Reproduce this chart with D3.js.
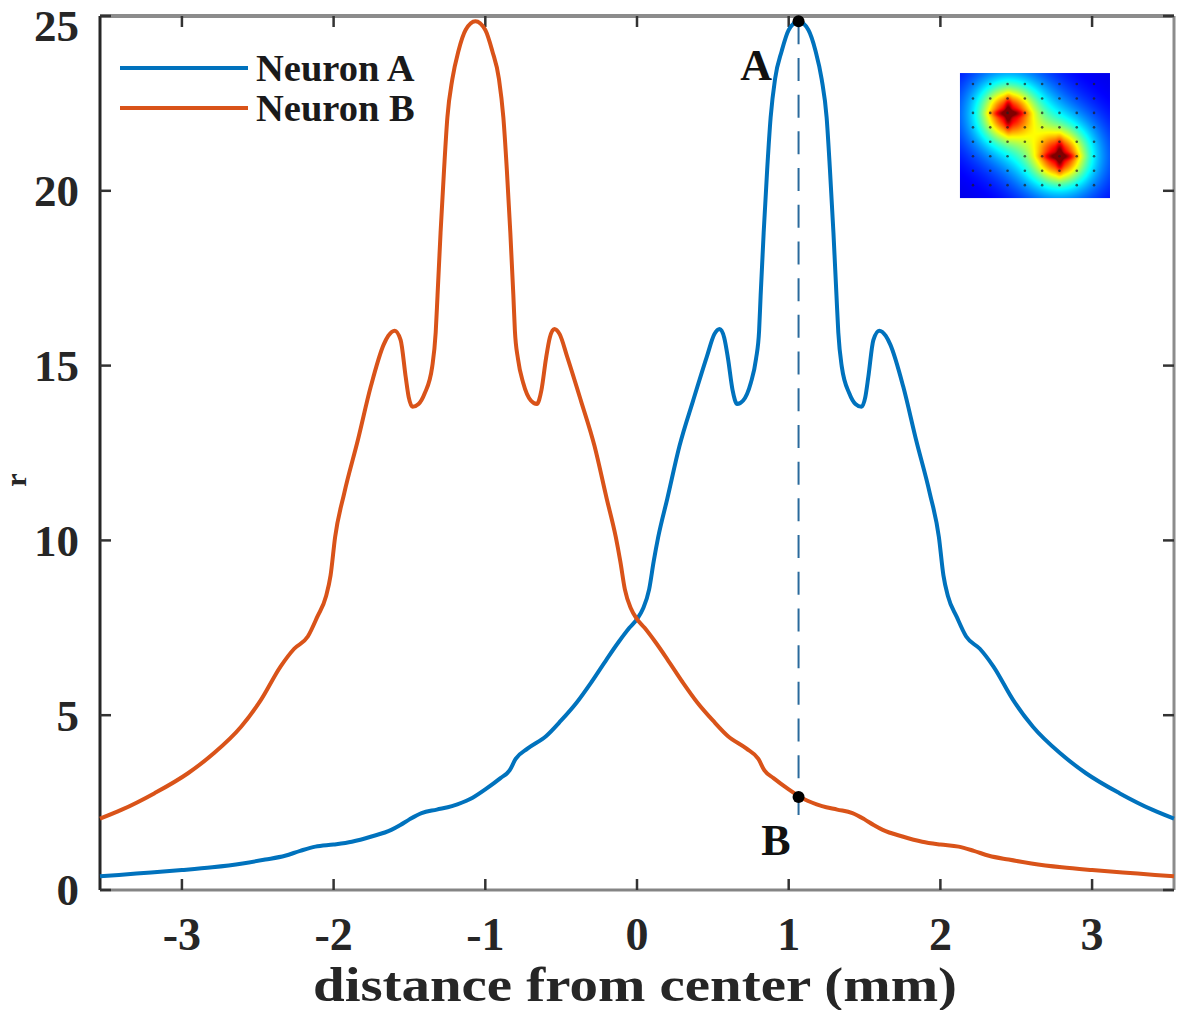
<!DOCTYPE html>
<html><head><meta charset="utf-8">
<script src="https://cdn.jsdelivr.net/npm/d3@7"></script>
<style>body{margin:0;background:#fff}svg{display:block}</style>
</head><body>
<svg id="chart" width="1181" height="1010"></svg>
<script>
// ---- data ----
const seriesNames = ["Neuron A", "Neuron B"];
const seriesColors = ["#0072BD", "#D95319"];
const neuronA_x = [-3.54,-3.3,-3.0,-2.8,-2.6,-2.45,-2.32,-2.22,-2.12,-2.0,-1.88,-1.75,-1.62,-1.56,-1.5,-1.42,-1.32,-1.22,-1.1,-1.0,-0.9,-0.84,-0.8,-0.72,-0.6,-0.5,-0.4,-0.3,-0.2,-0.12,-0.05,0.0,0.04,0.08,0.11,0.14,0.2,0.28,0.37,0.46,0.51,0.545,0.575,0.6,0.63,0.66,0.7,0.75,0.785,0.805,0.815,0.835,0.858,0.881,0.91,0.954,1.0,1.065,1.13,1.177,1.217,1.25,1.272,1.295,1.315,1.327,1.35,1.4,1.44,1.48,1.505,1.525,1.558,1.597,1.64,1.67,1.755,1.84,1.93,1.99,2.02,2.05,2.107,2.17,2.26,2.35,2.48,2.61,2.79,2.96,3.18,3.4,3.54];
const neuronA_y = [0.39,0.47,0.57,0.65,0.76,0.87,0.98,1.12,1.24,1.30,1.38,1.53,1.72,1.86,2.02,2.2,2.3,2.4,2.6,2.88,3.2,3.42,3.75,4.05,4.4,4.85,5.35,5.95,6.6,7.1,7.5,7.75,8.05,8.6,9.4,10.1,11.2,12.7,14.0,15.25,15.9,16.05,15.8,15.2,14.3,13.9,14.0,14.5,15.2,16.0,17.0,18.8,20.6,22.1,23.2,24.0,24.6,24.85,24.6,24.0,23.2,22.1,20.6,18.8,17.0,15.95,14.97,14.2,13.9,13.82,14.1,14.68,15.73,16.0,15.85,15.6,14.4,12.87,11.35,10.1,9.0,8.4,7.82,7.25,6.9,6.39,5.43,4.67,3.91,3.34,2.77,2.29,2.04];
const neuronB_x = [-3.54,-3.4,-3.18,-2.96,-2.79,-2.61,-2.48,-2.35,-2.26,-2.17,-2.107,-2.05,-2.02,-1.99,-1.93,-1.84,-1.755,-1.67,-1.64,-1.597,-1.558,-1.525,-1.505,-1.48,-1.44,-1.4,-1.35,-1.327,-1.315,-1.295,-1.272,-1.25,-1.217,-1.177,-1.13,-1.065,-1.0,-0.954,-0.91,-0.881,-0.858,-0.835,-0.815,-0.805,-0.785,-0.75,-0.7,-0.66,-0.63,-0.6,-0.575,-0.545,-0.51,-0.46,-0.37,-0.28,-0.2,-0.14,-0.11,-0.08,-0.04,0.0,0.05,0.12,0.2,0.3,0.4,0.5,0.6,0.72,0.8,0.84,0.9,1.0,1.1,1.22,1.32,1.42,1.5,1.56,1.62,1.75,1.88,2.0,2.12,2.22,2.32,2.45,2.6,2.8,3.0,3.3,3.54];
const neuronB_y = [2.04,2.29,2.77,3.34,3.91,4.67,5.43,6.39,6.9,7.25,7.82,8.4,9.0,10.1,11.35,12.87,14.4,15.6,15.85,16.0,15.73,14.68,14.1,13.82,13.9,14.2,14.97,15.95,17.0,18.8,20.6,22.1,23.2,24.0,24.6,24.85,24.6,24.0,23.2,22.1,20.6,18.8,17.0,16.0,15.2,14.5,14.0,13.9,14.3,15.2,15.8,16.05,15.9,15.25,14.0,12.7,11.2,10.1,9.4,8.6,8.05,7.75,7.5,7.1,6.6,5.95,5.35,4.85,4.4,4.05,3.75,3.42,3.2,2.88,2.6,2.4,2.3,2.2,2.02,1.86,1.72,1.53,1.38,1.30,1.24,1.12,0.98,0.87,0.76,0.65,0.57,0.47,0.39];
const xTickValues = [-3, -2, -1, 0, 1, 2, 3];
const yTickValues = [0, 5, 10, 15, 20, 25];
const xLabel = "distance from center (mm)";
const yLabel = "r";
const markerX = 1.065;
const markerValues = [24.85, 2.66];
const markerLabels = ["A", "B"];
// inset: two source spots in the heat-map thumbnail (relative 0..1 coords)
const insetSpots_x = [0.318, 0.662];
const insetSpots_y = [0.318, 0.662];

// ---- layout ----
const L = 100, R = 1174, T = 16, B = 890;
const FONT = "'Liberation Serif','Times New Roman',serif";
const svg = d3.select("#chart");
const x = d3.scaleLinear().domain([-3.54, 3.54]).range([L, R]);
const y = d3.scaleLinear().domain([0, 25]).range([B, T]);

// frame
svg.append("line").attr("x1", L).attr("x2", R).attr("y1", T).attr("y2", T).attr("stroke", "#8c8c8c").attr("stroke-width", 4);
svg.append("line").attr("x1", R).attr("x2", R).attr("y1", T).attr("y2", B).attr("stroke", "#8c8c8c").attr("stroke-width", 3);
svg.append("line").attr("x1", L).attr("x2", R).attr("y1", B).attr("y2", B).attr("stroke", "#858585").attr("stroke-width", 3);
svg.append("line").attr("x1", L).attr("x2", L).attr("y1", T).attr("y2", B).attr("stroke", "#262626").attr("stroke-width", 3);

// ticks (inward)
const TL = 11;
const tickG = svg.append("g").attr("stroke", "#333").attr("stroke-width", 2.5);
xTickValues.forEach(v => {
  tickG.append("line").attr("x1", x(v)).attr("x2", x(v)).attr("y1", B).attr("y2", B - TL);
  tickG.append("line").attr("x1", x(v)).attr("x2", x(v)).attr("y1", T).attr("y2", T + TL);
});
yTickValues.forEach(v => {
  tickG.append("line").attr("x1", L).attr("x2", L + TL).attr("y1", y(v)).attr("y2", y(v));
  tickG.append("line").attr("x1", R).attr("x2", R - TL).attr("y1", y(v)).attr("y2", y(v));
});

// tick labels
svg.append("g").selectAll("text").data(xTickValues).join("text")
  .attr("x", d => x(d)).attr("y", 950)
  .attr("text-anchor", "middle")
  .attr("font-family", FONT).attr("font-weight", "bold").attr("font-size", 46).attr("fill", "#262626")
  .text(d => d < 0 ? "-" + Math.abs(d) : String(d));
svg.append("g").selectAll("text").data(yTickValues).join("text")
  .attr("x", 79).attr("y", d => Math.max(y(d) + 15.3, 41))
  .attr("text-anchor", "end")
  .attr("font-family", FONT).attr("font-weight", "bold").attr("font-size", 45).attr("fill", "#262626")
  .text(d => String(d));

// axis labels
svg.append("text").attr("x", 635).attr("y", 1001).attr("text-anchor", "middle")
  .attr("font-family", FONT).attr("font-weight", "bold").attr("font-size", 48).attr("fill", "#262626")
  .attr("textLength", 644).attr("lengthAdjust", "spacingAndGlyphs")
  .text(xLabel);
svg.append("text").attr("transform", "translate(26,480) rotate(-90)").attr("text-anchor", "middle")
  .attr("font-family", FONT).attr("font-weight", "bold").attr("font-size", 30).attr("fill", "#262626")
  .text(yLabel);

// heat-map inset
(function () {
  const x0 = 2.129, x1 = 3.118, y0 = 23.37, y1 = 19.79;
  const px = x(x0), py = y(y0), pw = x(x1) - x(x0), ph = y(y1) - y(y0);
  const cw = Math.round(pw), ch = Math.round(ph);
  const cv = document.createElement("canvas"); cv.width = cw; cv.height = ch;
  const ctx = cv.getContext("2d");
  const img = ctx.createImageData(cw, ch);
  const jet = v => {
    const c = t => Math.max(0, Math.min(1, t));
    return [c(1.5 - Math.abs(4 * v - 3)), c(1.5 - Math.abs(4 * v - 2)), c(1.5 - Math.abs(4 * v - 1))];
  };
  const sx = insetSpots_x.map(v => v * cw), sy = insetSpots_y.map(v => v * ch);
  for (let j = 0; j < ch; j++) for (let i = 0; i < cw; i++) {
    let v = 0.1;
    for (let k = 0; k < sx.length; k++) {
      const dx = i - sx[k], dy = j - sy[k];
      const r2 = dx * dx + dy * dy;
      v += 0.38 * Math.exp(-r2 / (2 * 32 * 32));
      v += 0.40 * Math.exp(-r2 / (2 * 16 * 16));
      const cross = Math.exp(-(dx * dx) / 10) * Math.exp(-(dy * dy) / 260) + Math.exp(-(dy * dy) / 10) * Math.exp(-(dx * dx) / 260);
      v += 0.14 * cross;
    }
    v = Math.min(v, 1);
    const [r, g, b] = jet(v);
    const o = (j * cw + i) * 4;
    img.data[o] = r * 255; img.data[o + 1] = g * 255; img.data[o + 2] = b * 255; img.data[o + 3] = 255;
  }
  ctx.putImageData(img, 0, 0);
  const g = svg.append("g");
  g.append("image").attr("x", px).attr("y", py).attr("width", pw).attr("height", ph)
    .attr("href", cv.toDataURL());
  const cols = d3.range(8).map(i => px + 13 + i * 17.3);
  const rows = d3.range(8).map(i => py + 11 + i * 14.45);
  rows.forEach(ry => cols.forEach(cx => {
    g.append("circle").attr("cx", cx).attr("cy", ry).attr("r", 1.3).attr("fill", "#202020").attr("opacity", 0.7);
  }));
})();

// curves
const line = d3.line().x(d => x(d[0])).y(d => y(d[1])).curve(d3.curveMonotoneX);
const seriesData = [d3.zip(neuronA_x, neuronA_y), d3.zip(neuronB_x, neuronB_y)];
svg.append("g").selectAll("path").data(seriesData).join("path")
  .attr("d", line).attr("fill", "none")
  .attr("stroke", (d, i) => seriesColors[i]).attr("stroke-width", 4)
  .attr("stroke-linejoin", "round");

// dashed marker line
svg.append("line").attr("x1", x(markerX)).attr("x2", x(markerX))
  .attr("y1", y(markerValues[0])).attr("y2", y(1.95))
  .attr("stroke", "#2a6a9c").attr("stroke-width", 2).attr("stroke-dasharray", "23,13.7");
svg.append("g").selectAll("circle").data(markerValues).join("circle")
  .attr("cx", x(markerX)).attr("cy", d => y(d)).attr("r", 6).attr("fill", "#000");
svg.append("text").attr("x", x(0.89)).attr("y", y(23.17)).attr("text-anchor", "end")
  .attr("font-family", FONT).attr("font-weight", "bold").attr("font-size", 44).attr("fill", "#111")
  .text(markerLabels[0]);
svg.append("text").attr("x", x(0.916)).attr("y", y(1.0)).attr("text-anchor", "middle")
  .attr("font-family", FONT).attr("font-weight", "bold").attr("font-size", 44).attr("fill", "#111")
  .text(markerLabels[1]);

// legend
const leg = svg.append("g");
seriesNames.forEach((n, i) => {
  const ly = 68 + i * 40;
  leg.append("line").attr("x1", 120).attr("x2", 248).attr("y1", ly).attr("y2", ly)
    .attr("stroke", seriesColors[i]).attr("stroke-width", 4);
  leg.append("text").attr("x", 256).attr("y", ly).attr("dy", "0.33em")
    .attr("font-family", FONT).attr("font-weight", "bold").attr("font-size", 38.5).attr("fill", "#1a1a1a")
    .text(n);
});
</script>
</body></html>
